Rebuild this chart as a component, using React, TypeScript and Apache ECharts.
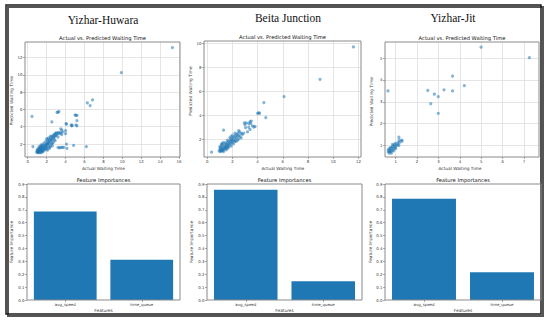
import React, { useEffect, useRef } from "react";
import * as echarts from "echarts";

const panelTitles = ["Yizhar-Huwara", "Beita Junction", "Yizhar-Jit"];
const scatterTitle = "Actual vs. Predicted Waiting Time";
const barTitle = "Feature Importances";
const features = ["avg_speed", "time_queue"];
const huwaraImportance = [0.687, 0.313];
const beitaImportance = [0.855, 0.145];
const jitImportance = [0.785, 0.215];

const huwaraPoints = [
  [15.3, 13.15], [9.9, 10.25], [6.85, 7.1], [6.3, 6.75], [6.6, 6.45], [3.3, 5.75], [3.1, 5.65], [3.2, 5.7],
  [0.45, 5.2], [2.55, 4.55], [6.2, 1.7], [4.85, 1.85], [4.1, 2.0], [4.15, 1.5], [3.8, 1.6], [3.5, 1.6],
  [3.2, 1.6], [3.35, 1.55], [3.65, 1.62], [0.55, 1.7],
  [3.5, 3.75], [3.6, 3.6], [4.0, 3.55], [4.1, 4.3], [4.05, 4.35], [4.6, 4.2], [4.7, 4.15], [4.65, 4.1],
  [5.2, 4.7], [5.1, 4.2], [5.2, 4.1], [5.0, 5.35], [5.2, 5.3], [5.1, 5.35], [4.0, 3.2],
  [2.05, 2.1], [2.1, 1.95], [2.15, 2.25], [2.2, 2.05], [2.25, 2.4], [2.3, 2.15], [2.35, 2.55], [2.4, 2.3],
  [2.45, 2.7], [2.5, 2.45], [2.55, 2.85], [2.6, 2.55], [2.65, 2.95], [2.7, 2.7], [2.75, 3.05], [2.8, 2.8],
  [2.85, 3.15], [2.9, 2.9], [2.95, 3.25], [3.0, 3.0], [3.05, 3.3], [3.1, 3.1], [3.2, 3.25], [3.3, 3.35],
  [3.4, 3.2], [3.5, 3.3], [2.3, 1.8], [2.6, 2.1], [2.9, 2.4], [3.2, 2.8], [2.1, 2.5], [2.4, 2.9],
  [3.6, 3.1], [3.7, 3.4],
  [0.95, 1.05], [1.0, 1.15], [1.05, 1.0], [1.1, 1.1], [1.1, 1.25], [1.15, 1.05], [1.2, 1.15], [1.2, 1.3],
  [1.25, 1.0], [1.3, 1.2], [1.3, 1.4], [1.35, 1.1], [1.4, 1.3], [1.4, 1.5], [1.45, 1.2], [1.5, 1.35],
  [1.5, 1.6], [1.55, 1.15], [1.6, 1.45], [1.6, 1.7], [1.65, 1.3], [1.7, 1.55], [1.7, 1.8], [1.75, 1.4],
  [1.8, 1.65], [1.85, 1.9], [1.9, 1.5], [1.9, 1.75], [1.95, 2.0], [2.0, 1.6], [2.0, 1.85], [1.15, 1.45],
  [1.25, 1.55], [1.0, 1.3], [1.35, 1.65], [1.45, 1.75], [1.55, 1.9], [1.05, 1.4],
  [1.8, 1.3], [2.0, 1.4], [2.2, 1.6], [2.4, 1.7], [2.5, 2.0], [2.7, 2.2], [2.8, 2.5], [1.6, 1.1],
  [1.4, 1.0], [2.1, 1.3], [2.3, 1.5], [2.6, 1.8], [1.2, 1.7], [1.4, 1.9], [1.7, 2.1], [1.9, 2.3],
  [2.2, 2.7], [2.0, 2.6],
];

const beitaPoints = [
  [11.6, 9.7], [8.95, 7.0], [6.1, 5.55], [4.5, 5.05], [4.65, 3.8], [4.0, 4.15], [4.1, 4.2], [4.15, 4.15],
  [1.3, 2.75], [0.35, 0.9],
  [3.4, 3.45], [3.45, 3.3], [3.3, 3.3], [3.0, 3.2], [3.1, 3.35], [3.5, 3.5], [3.6, 3.1], [3.3, 3.0],
  [3.8, 3.05], [3.7, 3.0], [2.9, 2.5], [2.7, 2.45], [3.2, 2.6], [2.95, 3.35], [3.05, 2.95], [3.4, 2.8],
  [2.6, 2.6], [2.5, 2.7],
  [0.95, 1.0], [1.0, 1.1], [1.05, 0.95], [1.1, 1.05], [1.1, 1.2], [1.15, 1.0], [1.2, 1.1], [1.2, 1.3],
  [1.25, 1.05], [1.3, 1.2], [1.3, 1.4], [1.35, 1.15], [1.4, 1.3], [1.4, 1.5], [1.45, 1.25], [1.5, 1.4],
  [1.5, 1.6], [1.55, 1.3], [1.6, 1.5], [1.6, 1.7], [1.65, 1.4], [1.7, 1.6], [1.7, 1.8], [1.75, 1.5],
  [1.8, 1.7], [1.85, 1.9], [1.9, 1.6], [1.9, 1.8], [1.95, 2.0], [2.0, 1.7], [2.0, 1.9], [2.05, 2.1],
  [2.1, 1.85], [2.15, 2.2], [2.2, 2.0], [2.25, 2.3], [2.3, 2.1], [2.35, 2.4], [2.4, 2.2], [2.45, 2.5],
  [2.5, 2.3], [2.6, 2.2], [1.0, 1.35], [1.1, 1.45], [1.2, 1.55], [1.25, 1.7], [1.15, 1.6], [1.05, 1.25],
  [2.2, 1.8], [1.8, 2.1], [2.0, 2.3],
  [1.7, 1.3], [1.9, 1.4], [2.1, 1.6], [2.3, 1.8], [2.5, 2.0], [2.7, 2.1], [2.8, 2.4], [1.5, 1.1],
  [1.3, 0.95], [1.6, 1.2], [2.4, 1.9], [1.4, 1.7], [1.6, 1.9], [1.9, 2.2], [2.2, 2.5],
];

const jitPoints = [
  [4.99, 5.5], [7.25, 5.02], [3.66, 4.18], [4.21, 3.74], [2.5, 3.52], [3.26, 3.55], [3.66, 3.5], [2.81, 3.35],
  [2.99, 3.24], [2.64, 2.91], [2.99, 2.47], [0.64, 3.5],
  [0.65, 0.7], [0.65, 0.8], [0.7, 0.65], [0.7, 0.75], [0.7, 0.85], [0.75, 0.7], [0.75, 0.8], [0.8, 0.75],
  [0.8, 0.9], [0.85, 0.8], [0.85, 0.95], [0.9, 0.85], [0.9, 1.0], [0.95, 0.9], [0.95, 1.05], [1.0, 0.95],
  [1.0, 1.1], [1.05, 1.0], [1.1, 1.05], [1.15, 1.38], [1.16, 1.25], [1.2, 1.15], [1.28, 1.24], [1.12, 1.14],
  [1.0, 0.85], [0.9, 0.75], [0.8, 0.65], [1.15, 1.0], [1.3, 1.2], [0.75, 0.9], [0.85, 1.05],
];

const BLUE = "#1f77b4";
const FRAME = "#8a8a8a";
const SMALL = "DejaVu Sans";
const TICK_FS = 3.9;
const NAME_FS = 4.3;
const TITLE_FS = 5.2;

type Frame = { l: number; t: number; w: number; h: number };

const tickLabel = { fontFamily: SMALL, fontSize: TICK_FS, color: "#333", margin: 2.5 };
const nameStyle = { fontFamily: SMALL, fontSize: NAME_FS, color: "#333" };
const tickStyle = { show: true, length: 1.8, lineStyle: { color: "#555", width: 0.6 } };
const gridLine = { show: true, lineStyle: { color: "#dedede", width: 0.8 } };

export default function App() {
  const ref = useRef<HTMLDivElement>(null);
  useEffect(() => {
    if (!ref.current) return;
    const chart = echarts.init(ref.current, null, { renderer: "svg" });
    const grids: any[] = [];
    const xAxes: any[] = [];
    const yAxes: any[] = [];
    const series: any[] = [];
    const frames: any[] = [];

    const addGrid = (g: any) => {
      grids.push({ ...g, show: false });
      return grids.length - 1;
    };

    const scatterPanel = (
      f: Frame, xlim: number[], ylim: number[], xt: number[], yt: number[], xi: number, yi: number,
      yGap: number, data: number[][],
    ) => {
      const sx = f.w / (xlim[1] - xlim[0]);
      const sy = f.h / (ylim[1] - ylim[0]);
      const px = (v: number) => f.l + (v - xlim[0]) * sx;
      const py = (v: number) => f.t + f.h - (v - ylim[0]) * sy;
      const gv = addGrid({ left: px(xt[0]), width: px(xt[1]) - px(xt[0]), top: f.t, height: f.h });
      xAxes.push({
        type: "value", gridIndex: gv, min: xt[0], max: xt[1], interval: xi,
        name: "Actual Waiting Time", nameLocation: "middle", nameGap: 9.5, nameTextStyle: nameStyle,
        axisLine: { show: false }, axisTick: tickStyle, axisLabel: tickLabel, splitLine: gridLine,
      });
      yAxes.push({ type: "value", gridIndex: gv, show: false });
      const gh = addGrid({ left: f.l, width: f.w, top: py(yt[1]), height: py(yt[0]) - py(yt[1]) });
      xAxes.push({ type: "value", gridIndex: gh, show: false });
      yAxes.push({
        type: "value", gridIndex: gh, min: yt[0], max: yt[1], interval: yi,
        name: "Predicted Waiting Time", nameLocation: "middle", nameGap: yGap, nameTextStyle: nameStyle,
        axisLine: { show: false }, axisTick: tickStyle, axisLabel: tickLabel, splitLine: gridLine,
      });
      const gd = addGrid({ left: px(xt[0]), width: px(xt[1]) - px(xt[0]), top: py(yt[1]), height: py(yt[0]) - py(yt[1]) });
      xAxes.push({ type: "value", gridIndex: gd, min: xt[0], max: xt[1], show: false });
      yAxes.push({ type: "value", gridIndex: gd, min: yt[0], max: yt[1], show: false });
      series.push({
        type: "scatter", xAxisIndex: xAxes.length - 1, yAxisIndex: yAxes.length - 1, data, clip: false,
        symbolSize: 3.2, itemStyle: { color: BLUE, opacity: 0.55 },
      });
      frames.push({ type: "rect", shape: { x: f.l, y: f.t, width: f.w, height: f.h }, style: { fill: "none", stroke: FRAME, lineWidth: 1 }, z: 50 });
    };

    const barPanel = (f: Frame, yGap: number, data: number[]) => {
      const g = addGrid({ left: f.l, top: f.t, width: f.w, height: f.h });
      xAxes.push({
        type: "category", gridIndex: g, data: features,
        name: "Features", nameLocation: "middle", nameGap: 8.5, nameTextStyle: nameStyle,
        axisLine: { show: false }, axisTick: { ...tickStyle, alignWithLabel: true }, axisLabel: tickLabel,
      });
      yAxes.push({
        type: "value", gridIndex: g, min: 0, max: 0.9, interval: 0.1,
        name: "Feature Importance", nameLocation: "middle", nameGap: yGap, nameTextStyle: nameStyle,
        axisLine: { show: false }, axisTick: tickStyle,
        axisLabel: { ...tickLabel, formatter: (v: number) => v.toFixed(1) }, splitLine: { show: false },
      });
      series.push({
        type: "bar", xAxisIndex: xAxes.length - 1, yAxisIndex: yAxes.length - 1, data, barCategoryGap: "18%",
        itemStyle: { color: BLUE },
      });
      frames.push({ type: "rect", shape: { x: f.l, y: f.t, width: f.w, height: f.h }, style: { fill: "none", stroke: FRAME, lineWidth: 1 }, z: 50 });
    };

    scatterPanel({ l: 25, t: 42, w: 155, h: 115 }, [-0.29, 16.1], [0.5, 13.8], [0, 16], [2, 12], 2, 2, 12, huwaraPoints);
    scatterPanel({ l: 204, t: 41, w: 157, h: 116 }, [-0.25, 12.2], [0.5, 10.2], [0, 12], [2, 10], 2, 2, 11, beitaPoints);
    scatterPanel({ l: 385, t: 42, w: 154, h: 115 }, [0.5, 7.7], [0.47, 5.74], [1, 7], [1, 5], 1, 1, 12, jitPoints);
    barPanel({ l: 27, t: 184, w: 153, h: 116 }, 14, huwaraImportance);
    barPanel({ l: 207, t: 184, w: 155, h: 116 }, 14, beitaImportance);
    barPanel({ l: 385, t: 184, w: 156, h: 116 }, 12, jitImportance);

    const text = (x: number, y: number, t: string, font: string) => ({
      type: "text", x, y, z: 60, style: { text: t, font, fill: "#111", textAlign: "center", textVerticalAlign: "middle" },
    });

    chart.setOption({
      animation: false,
      backgroundColor: "#fff",
      grid: grids,
      xAxis: xAxes,
      yAxis: yAxes,
      series,
      graphic: [
        { type: "rect", shape: { x: 8, y: 7, width: 535, height: 309 }, style: { fill: "none", stroke: "#555", lineWidth: 2 }, z: 1 },
        { type: "rect", shape: { x: 6, y: 5, width: 535, height: 309 }, style: { fill: "none", stroke: "#1a1a1a", lineWidth: 1.5 }, z: 2 },
        ...frames,
        text(103, 20, panelTitles[0], "11.5px 'Liberation Serif'"),
        text(288, 17.5, panelTitles[1], "11.5px 'Liberation Serif'"),
        text(453, 17.5, panelTitles[2], "11.5px 'Liberation Serif'"),
        text(102.5, 38, scatterTitle, `${TITLE_FS}px '${SMALL}'`),
        text(282.5, 37, scatterTitle, `${TITLE_FS}px '${SMALL}'`),
        text(462, 37.5, scatterTitle, `${TITLE_FS}px '${SMALL}'`),
        text(103.5, 180, barTitle, `${TITLE_FS}px '${SMALL}'`),
        text(284.5, 180, barTitle, `${TITLE_FS}px '${SMALL}'`),
        text(463, 180, barTitle, `${TITLE_FS}px '${SMALL}'`),
      ],
    });
    return () => chart.dispose();
  }, []);
  return <div ref={ref} style={{ position: "fixed", left: 0, top: 0, width: 550, height: 323, background: "#fff" }} />;
}
